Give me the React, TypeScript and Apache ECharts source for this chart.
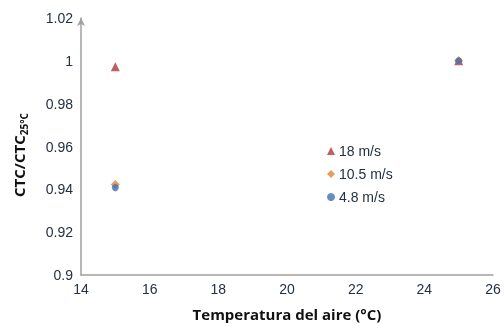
import React, { useEffect, useRef } from "react";
import * as echarts from "echarts";

const seriesNames = ["18 m/s", "10.5 m/s", "4.8 m/s"];
const temps = [15, 25];
const v18 = [0.9972, 1.0];
const v105 = [0.9422, 1.0];
const v48 = [0.9408, 1.0];
const xTicks = [14, 16, 18, 20, 22, 24, 26];
const yTicks = [0.9, 0.92, 0.94, 0.96, 0.98, 1, 1.02];

const colors = ["#b3353a", "#e5842f", "#3f6fb5"];
const symbols = ["triangle", "diamond", "circle"];
const sizes = [9, 9, 7];

export default function App() {
  const ref = useRef<HTMLDivElement>(null);
  useEffect(() => {
    if (!ref.current) return;
    const chart = echarts.init(ref.current, undefined, { renderer: "svg" });
    const values = [v18, v105, v48];
    const labelColor = "#253040";
    chart.setOption({
      animation: false,
      grid: { left: 81, right: 11, top: 18, bottom: 50 },
      xAxis: {
        type: "value",
        min: xTicks[0],
        max: xTicks[xTicks.length - 1],
        interval: 2,
        axisLine: { lineStyle: { color: "#a0a0a0", width: 1.5 } },
        axisTick: { show: false },
        splitLine: { show: false },
        axisLabel: { color: labelColor, fontSize: 14, fontFamily: "Liberation Sans, Arial", margin: 7 },
        name: "Temperatura del aire (°C)",
        nameLocation: "middle",
        nameGap: 31,
        nameTextStyle: { color: "#111", fontSize: 15, fontWeight: "bold", fontFamily: "Open Sans" },
      },
      yAxis: {
        type: "value",
        min: yTicks[0],
        max: yTicks[yTicks.length - 1],
        interval: 0.02,
        axisLine: {
          show: true,
          symbol: ["none", "arrow"],
          symbolSize: [6, 8],
          lineStyle: { color: "#a0a0a0", width: 1.5 },
        },
        axisTick: { show: false },
        splitLine: { show: false },
        axisLabel: {
          color: labelColor,
          fontSize: 14,
          fontFamily: "Liberation Sans, Arial",
          margin: 8,
          formatter: (v: number) => String(parseFloat(v.toFixed(2))),
        },
      },
      legend: {
        orient: "vertical",
        left: 322,
        top: 139,
        itemWidth: 8,
        itemHeight: 8,
        itemGap: 9,
        textStyle: { color: labelColor, fontSize: 14, fontFamily: "Liberation Sans, Arial", padding: [0, 0, 0, -1] },
        data: seriesNames.map((n, i) => ({ name: n, icon: symbols[i] })),
      },
      graphic: [
        {
          type: "text",
          x: 19,
          y: 155,
          rotation: Math.PI / 2,
          style: {
            text: "{a|CTC/CTC}{b|25°C}",
            align: "center",
            verticalAlign: "middle",
            rich: {
              a: { fontSize: 15, fontWeight: "bold", fill: "#111", fontFamily: "Open Sans" },
              b: { fontSize: 10, fontWeight: "bold", fill: "#111", fontFamily: "Open Sans", padding: [9, 0, 0, 0] },
            },
          },
        },
      ],
      series: seriesNames.map((n, i) => ({
        name: n,
        type: "scatter",
        symbol: symbols[i],
        symbolSize: sizes[i],
        itemStyle: { color: colors[i] },
        z: 2 + i,
        data: temps.map((t, j) => [t, values[i][j]]),
      })),
    });
    return () => chart.dispose();
  }, []);
  return <div ref={ref} style={{ position: "fixed", left: 0, top: 0, width: 504, height: 326 }} />;
}
